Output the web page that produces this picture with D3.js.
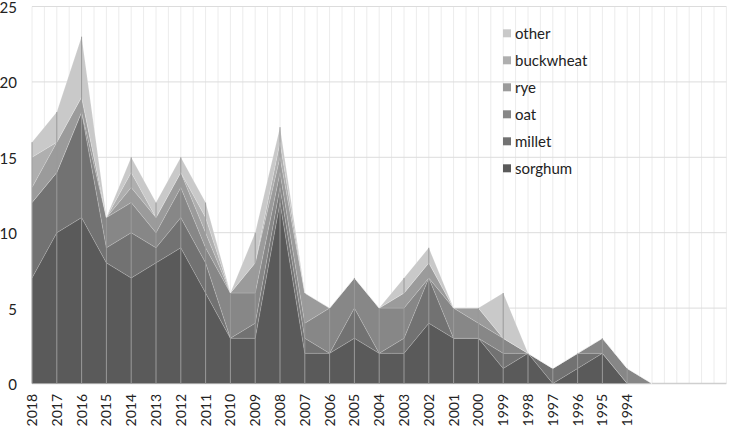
<!DOCTYPE html>
<html>
<head>
<meta charset="utf-8">
<script src="https://cdn.jsdelivr.net/npm/d3@7"></script>
<style>
	body { margin: 0; background: #fff; }
	svg { display: block; font-family: Lato, "Open Sans", sans-serif; }
</style>
</head>
<body>
<svg></svg>
<script>
const width = 729
const height = 429

// categories (last ones are empty slots on the axis)
const years = ['2018', '2017', '2016', '2015', '2014', '2013', '2012', '2011', '2010', '2009',
	'2008', '2007', '2006', '2005', '2004', '2003', '2002', '2001', '2000', '1999',
	'1998', '1997', '1996', '1995', '1994', '', '', '', '']

const seriesNames = ['sorghum', 'millet', 'oat', 'rye', 'buckwheat', 'other']
const colors = ['#5a5a5a', '#727272', '#878787', '#9b9b9b', '#afafaf', '#c9c9c9']

const sorghum = [7, 10, 11, 8, 7, 8, 9, 6, 3, 3, 12, 2, 2, 3, 2, 2, 4, 3, 3, 1, 2, 0, 1, 2, 0, 0]
const millet = [5, 4, 7, 1, 3, 1, 2, 2, 0, 1, 1, 1, 0, 2, 0, 1, 3, 0, 0, 1, 0, 1, 1, 0, 0, 0]
const oat = [0, 0, 0, 2, 2, 1, 2, 1, 3, 2, 1, 1, 3, 2, 3, 2, 0, 2, 1, 1, 0, 0, 0, 1, 1, 0]
const rye = [1, 2, 1, 0, 1, 1, 1, 1, 0, 2, 1, 2, 0, 0, 0, 1, 1, 0, 1, 0, 0, 0, 0, 0, 0, 0]
const buckwheat = [2, 0, 0, 0, 1, 0, 0, 1, 0, 0, 1, 0, 0, 0, 0, 0, 0, 0, 0, 0, 0, 0, 0, 0, 0, 0]
const other = [1, 2, 4, 0, 1, 1, 1, 1, 0, 2, 1, 0, 0, 0, 0, 1, 1, 0, 0, 3, 0, 0, 0, 0, 0, 0]

const yTicks = [0, 5, 10, 15, 20, 25]

const values = { sorghum, millet, oat, rye, buckwheat, other }
const table = sorghum.map(function (d, i) {
	const row = { i: i }
	seriesNames.forEach(function (k) { row[k] = values[k][i] })
	return row
})

const svg = d3.select('svg')
	.attr('width', width)
	.attr('height', height)

const x = d3.scaleLinear()
	.domain([0, years.length - 1])
	.range([32, 726.4])

const y = d3.scaleLinear()
	.domain([0, 25])
	.range([383.5, 6.5])

// vertical gridlines at every half category
svg.append('g')
	.selectAll('line')
	.data(d3.range(0, years.length - 0.5, 0.5))
	.enter()
	.append('line')
	.attr('x1', d => x(d))
	.attr('x2', d => x(d))
	.attr('y1', y(25))
	.attr('y2', y(0))
	.attr('stroke', '#ececec')
	.attr('stroke-width', 1)

// horizontal gridlines
svg.append('g')
	.selectAll('line')
	.data(yTicks)
	.enter()
	.append('line')
	.attr('x1', x(0))
	.attr('x2', x(years.length - 1))
	.attr('y1', d => y(d))
	.attr('y2', d => y(d))
	.attr('stroke', d => d === 0 ? '#cfcfcf' : '#dcdcdc')
	.attr('stroke-width', d => d === 0 ? 1.5 : 1)

const stack = d3.stack().keys(seriesNames)
const layers = stack(table)

const area = d3.area()
	.x(d => x(d.data.i))
	.y0(d => y(d[0]))
	.y1(d => y(d[1]))

svg.append('g')
	.selectAll('path')
	.data(layers)
	.enter()
	.append('path')
	.attr('d', area)
	.attr('fill', (d, i) => colors[i])
	.attr('stroke', 'rgba(255,255,255,0.25)')
	.attr('stroke-width', 0.6)

// drop lines from the stack top to the axis
const totals = table.map(r => seriesNames.reduce((s, k) => s + r[k], 0))
svg.append('g')
	.selectAll('line')
	.data(totals.slice(0, 25))
	.enter()
	.append('line')
	.attr('x1', (d, i) => x(i))
	.attr('x2', (d, i) => x(i))
	.attr('y1', d => y(d))
	.attr('y2', y(0))
	.attr('stroke', '#9a9a9a')
	.attr('stroke-width', 1)

// y axis labels
svg.append('g')
	.selectAll('text')
	.data(yTicks)
	.enter()
	.append('text')
	.attr('x', 17)
	.attr('y', d => y(d) + 1)
	.attr('dy', '0.36em')
	.attr('text-anchor', 'end')
	.attr('font-size', 15)
	.attr('fill', '#222')
	.text(d => d)

// x axis labels
svg.append('g')
	.selectAll('text')
	.data(years)
	.enter()
	.append('text')
	.attr('transform', (d, i) => 'translate(' + x(i) + ',394) rotate(-90)')
	.attr('dy', '0.36em')
	.attr('text-anchor', 'end')
	.attr('font-size', 14)
	.attr('fill', '#222')
	.text(d => d)

// legend
const legend = svg.append('g')
	.selectAll('g')
	.data(seriesNames.slice().reverse())
	.enter()
	.append('g')
	.attr('transform', (d, i) => 'translate(503,' + (33.3 + i * 27) + ')')

legend.append('rect')
	.attr('x', 0)
	.attr('y', -4)
	.attr('width', 8)
	.attr('height', 8)
	.attr('fill', d => colors[seriesNames.indexOf(d)])

legend.append('text')
	.attr('x', 12)
	.attr('dy', '0.36em')
	.attr('font-size', 15)
	.attr('fill', '#222')
	.text(d => d)
</script>
</body>
</html>
